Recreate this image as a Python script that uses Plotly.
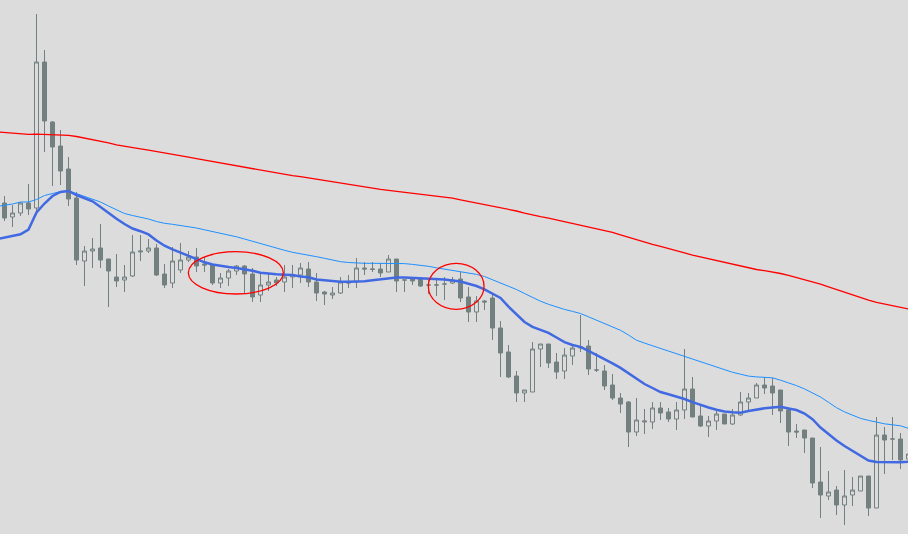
import plotly.graph_objects as go

# Bar index of each candle
bars = list(range(0, 114))

open_ = [397, 383, 387, 397, 392, 538, 478, 454, 431, 402,
         339, 349, 352, 341, 323, 320, 324, 348, 349, 352,
         326, 317, 330, 340, 343, 336, 335, 317, 322, 329,
         334, 326, 305, 315, 320, 318, 323, 325, 331, 318,
         308, 305, 307, 318, 318, 332, 330.5, 331, 328, 341,
         320, 321, 321, 315, 315, 316, 317, 321, 303, 288,
         299, 302, 272, 248, 224, 207, 208, 251, 256, 238,
         229, 244, 252, 254, 230, 229, 215, 202, 198, 168,
         178, 178, 192, 188, 181, 190, 211, 184, 174, 179,
         186, 176, 185, 198, 202, 215, 214, 210, 190, 169,
         170, 162, 118, 104, 110, 95, 105, 109, 124, 92,
         165, 161, 161, 141]
high = [404, 395, 398, 416, 586, 550, 479, 470, 443, 408,
        354, 362, 376, 341, 346, 335, 365, 365, 361, 356,
        336, 353, 357, 349, 352, 343, 335, 327, 331, 335,
        335, 332, 327, 327, 323, 335, 335, 337, 338, 327,
        309, 313, 323, 325, 342, 338, 338, 337, 345, 341,
        320, 323, 323, 320, 321, 323, 323, 328, 313, 304,
        300, 307, 279, 255, 229, 210, 258, 256, 256, 247,
        252, 255, 285, 260, 247, 235, 226, 207, 199, 202,
        191, 198, 198, 192, 198, 251, 223, 195, 184, 191,
        186, 191, 208, 207, 217, 223, 222, 210, 193, 176,
        170, 162, 153, 129, 114, 130, 123, 124, 124, 183,
        173, 183, 167, 150]
low = [379, 373, 384, 385, 387, 448, 414, 415, 394, 335,
       314, 332, 332, 293, 313, 308, 323, 339, 347, 324,
       312, 312, 327, 338, 328, 328, 315, 312, 314, 325,
       306, 298, 298, 309, 314, 308, 312, 317, 313, 299,
       295, 301, 306, 312, 312, 325, 328, 323, 328, 308,
       308, 315, 313, 306, 304, 300, 316, 298, 278, 278,
       290, 260, 223, 222, 198, 198, 208, 233, 232, 221,
       221, 235, 248, 225, 228, 210, 200, 187, 153, 164,
       166, 171, 180, 178, 170, 181, 183, 173, 163, 170,
       176, 175, 184, 188, 202, 206, 185, 177, 154, 162,
       147, 112, 82, 100, 85, 75, 94, 109, 84, 92,
       126, 140, 131, 135]
close = [382, 387, 397, 391, 538, 479, 453, 429, 401, 340,
         349, 351, 340, 329, 319, 323, 348, 349, 352, 325,
         315, 339, 340, 343, 334, 335, 317, 322, 329, 334,
         326, 303, 315, 318, 317, 323, 325, 332, 318, 307,
         306, 307, 318, 317, 332, 331, 331, 327, 341, 319,
         320, 319, 314, 315, 315, 316, 320, 302, 288, 299,
         298, 272, 247, 223, 207, 210, 251, 256, 237, 228,
         245, 252, 253, 231, 230, 214, 202, 196, 168, 180,
         179, 192, 187, 181, 190, 211, 183, 174, 179, 186,
         176, 185, 198, 202, 215, 212, 207, 189, 168, 168,
         162, 117, 105, 108, 95, 104, 110, 124, 92, 165,
         160, 161, 140, 146]

# Moving averages (one extra leading bar so they run in from the left edge)
ma_bars = list(range(-1, 114))
ma_slow = [468.2, 467.5, 466.5, 465.8, 465.6, 465.8, 465.7, 465.4, 465.0, 464.7,
           463.5, 462.0, 460.6, 459.2, 457.2, 455.1, 453.6, 452.4, 451.2, 449.9,
           448.6, 447.2, 445.7, 444.2, 442.8, 441.3, 439.9, 438.5, 437.2, 435.7,
           434.2, 432.8, 431.2, 429.6, 428.1, 426.7, 425.4, 424.3, 423.3, 422.0,
           420.5, 419.1, 417.9, 416.7, 415.4, 414.1, 412.8, 411.6, 410.6, 409.6,
           408.7, 407.8, 406.7, 405.6, 404.7, 403.8, 403.0, 401.8, 400.2, 398.6,
           397.1, 395.7, 394.2, 392.6, 391.0, 389.0, 386.8, 384.9, 383.4, 381.9,
           380.2, 378.3, 376.5, 374.7, 373.0, 371.3, 369.5, 367.6, 365.2, 362.7,
           360.3, 357.9, 355.7, 353.7, 351.7, 349.4, 347.1, 344.9, 343.1, 341.2,
           339.3, 337.3, 335.3, 333.6, 332.0, 330.5, 329.3, 328.1, 326.5, 324.6,
           322.6, 320.5, 318.4, 315.9, 313.2, 310.5, 307.7, 304.9, 302.2, 299.8,
           297.6, 295.9, 294.2, 292.6, 291.0]
ma_mid = [393.5, 394.5, 396, 398, 398, 400.5, 404.5, 406.5, 408.4, 409.2,
          406.5, 403.2, 401, 398, 394, 390, 386.5, 384.5, 383, 381,
          378.5, 376.7, 375.7, 374.5, 373.5, 372, 370.2, 368.5, 367, 365.3,
          363.2, 361, 358.6, 356.2, 353.8, 351.7, 349.7, 347.7, 346, 344.5,
          343.3, 341.7, 340, 338.3, 337.5, 336.9, 336.7, 336.7, 336.7, 336.7,
          336.7, 336.4, 335.6, 334.9, 333.7, 332.2, 331, 329.6, 328.2, 326.9,
          325.6, 323.5, 320.2, 317.7, 314, 310.5, 306.5, 302.5, 298.8, 295.7,
          293, 290.6, 288.6, 286.5, 283.2, 279.8, 276.4, 273.1, 269.7, 265,
          259.8, 256.9, 254.2, 251.5, 248.8, 246.1, 243.5, 240.9, 238.2, 235.5,
          232.8, 230.1, 227.7, 225.8, 223.9, 223.1, 222.9, 222.2, 219.8, 217.2,
          214.4, 211.1, 207.3, 203, 197.7, 192.3, 188.1, 184.8, 181.6, 179.6,
          177.6, 176.2, 175.2, 174.2, 171.6]
ma_fast = [360.8, 362.3, 363.8, 365.7, 370.5, 387.5, 396.5, 404, 408, 409,
           405, 401.7, 398.7, 393, 386.8, 381.2, 376, 371.5, 368.8, 365.6,
           359.5, 354.3, 350.7, 347.5, 344, 340.7, 337.7, 335.5, 333.9, 332.9,
           332, 331, 329.3, 327.2, 326.2, 325.7, 325.3, 324.9, 323.5, 322.7,
           320.5, 319.6, 319, 318.3, 318.3, 318.3, 318.8, 319.8, 320.8, 321.7,
           322.5, 322.6, 322.2, 321.7, 321.4, 321.1, 320.4, 319.5, 318.4, 316.3,
           314, 310.7, 306.5, 302, 293.3, 285.2, 278, 273.2, 269.8, 267.2,
           262.5, 257.9, 255, 253.1, 249.1, 245.1, 241, 236.6, 232.1, 226.7,
           221, 216, 212, 208, 205.7, 203.5, 201, 197.9, 194.8, 192.5,
           190.2, 188.5, 187.8, 187.3, 189, 190.7, 191.7, 192.5, 193.2, 191.5,
           190, 186.5, 180.8, 172.5, 165.7, 159.5, 154, 149.4, 144.7, 139.5,
           138, 137.7, 137.7, 137.7, 138.3]

# Highlight ellipses: (bar from, bar to, price low, price high)
circles = [(22.98, 34.85, 306.0, 348.3), (52.98, 59.94, 290.7, 336.7)]

BG = "#DCDCDC"
CANDLE = "#738080"

fig = go.Figure()
fig.add_trace(go.Candlestick(
    x=bars, open=open_, high=high, low=low, close=close,
    increasing=dict(fillcolor=BG, line=dict(color=CANDLE, width=1)),
    decreasing=dict(fillcolor=CANDLE, line=dict(color=CANDLE, width=1)),
    whiskerwidth=0, showlegend=False, hoverinfo="skip",
))
fig.add_trace(go.Scatter(x=ma_bars, y=ma_slow, mode="lines",
                         line=dict(color="#FF0000", width=1.3), showlegend=False))
fig.add_trace(go.Scatter(x=ma_bars, y=ma_mid, mode="lines",
                         line=dict(color="#1E90FF", width=1), showlegend=False))
fig.add_trace(go.Scatter(x=ma_bars, y=ma_fast, mode="lines",
                         line=dict(color="#4169E1", width=2.5), showlegend=False))

for x0, x1, y0, y1 in circles:
    fig.add_shape(type="circle", xref="x", yref="y", x0=x0, x1=x1, y0=y0, y1=y1,
                  line=dict(color="#FF0000", width=1.3))

fig.update_layout(
    width=908, height=534,
    margin=dict(l=0, r=0, t=0, b=0),
    paper_bgcolor=BG, plot_bgcolor=BG,
    boxgap=0.29,
    xaxis=dict(range=[-0.5625, 112.9375], visible=False, rangeslider=dict(visible=False),
               fixedrange=True),
    yaxis=dict(range=[66, 600], visible=False, fixedrange=True),
)
fig.write_html(
    "out.html",
    config={"displayModeBar": False},
    post_script="document.body.style.margin='0';document.body.style.overflow='hidden';"
                "document.documentElement.style.background='#DCDCDC';",
)
